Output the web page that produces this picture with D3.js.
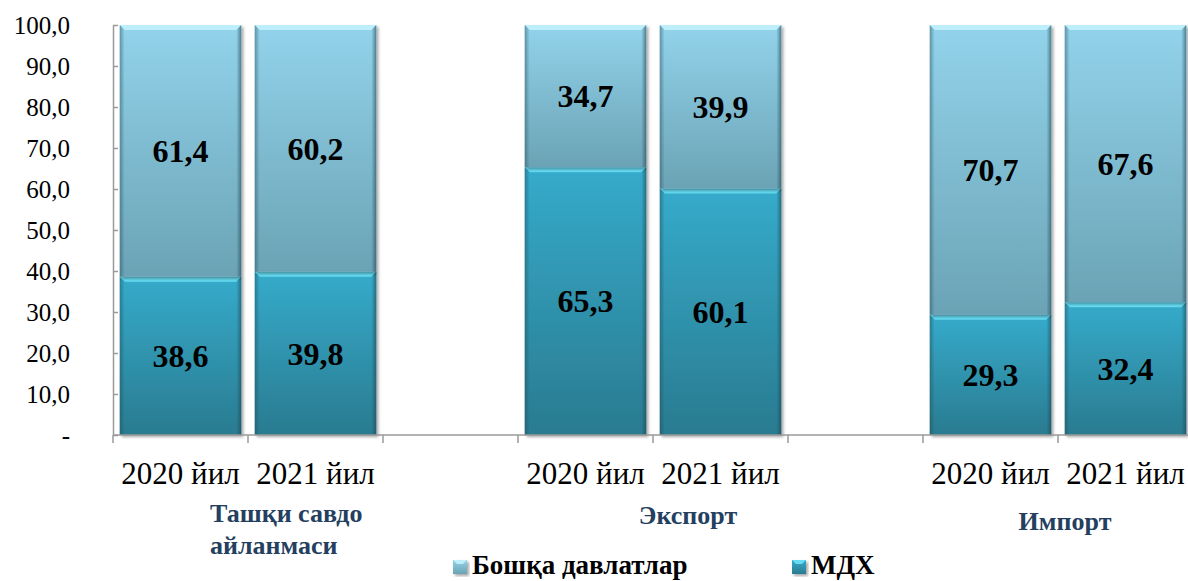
<!DOCTYPE html>
<html>
<head>
<meta charset="utf-8">
<script src="https://cdn.jsdelivr.net/npm/d3@7"></script>
<style>
  body { margin: 0; background: #fff; }
  svg { display: block; }
  svg text { font-family: "Liberation Serif", "Times New Roman", serif; }
</style>
</head>
<body>
<div id="chart"></div>
<script>
var W = 1188, H = 581
var margin = { top: 25, right: 0, bottom: 146, left: 113 }
var h = H - margin.top - margin.bottom
var w = 1080

// data
var groups = ['Ташқи савдо айланмаси', 'Экспорт', 'Импорт']
var years = ['2020 йил', '2021 йил']
var mdh = [38.6, 39.8, 65.3, 60.1, 29.3, 32.4]
var others = [61.4, 60.2, 34.7, 39.9, 70.7, 67.6]
var seriesNames = ['Бошқа давлатлар', 'МДХ']
var yTicks = [0, 10, 20, 30, 40, 50, 60, 70, 80, 90, 100]

// each group takes 3 slots: 2 years + an empty gap slot
var slots = d3.range(groups.length * 3 - 1)
var bars = []
groups.forEach(function (g, gi) {
  years.forEach(function (yr, yi) {
    var i = gi * 2 + yi
    bars.push({ slot: gi * 3 + yi, group: g, year: yr, mdh: mdh[i], other: others[i] })
  })
})

var x = d3.scaleBand().domain(slots).range([0, w]).paddingInner(0.1).paddingOuter(0.05)
var y = d3.scaleLinear().domain([0, 100]).range([h, 0])
var step = x.step()

var svg = d3.select('#chart').append('svg')
  .attr('width', W).attr('height', H)
var defs = svg.append('defs')

function grad(id, c1, c2) {
  var g = defs.append('linearGradient').attr('id', id)
    .attr('x1', 0).attr('y1', 0).attr('x2', 0).attr('y2', 1)
  g.append('stop').attr('offset', '0%').attr('stop-color', c1)
  g.append('stop').attr('offset', '100%').attr('stop-color', c2)
}
grad('gOther', '#92d3eb', '#6ba3b5')
grad('gMdh', '#35abcb', '#2a7b90')
var side = defs.append('linearGradient').attr('id', 'gSide')
side.append('stop').attr('offset', '0%').attr('stop-color', '#1d4652').attr('stop-opacity', 0.45)
side.append('stop').attr('offset', '4%').attr('stop-color', '#1d4652').attr('stop-opacity', 0)
side.append('stop').attr('offset', '96%').attr('stop-color', '#1d4652').attr('stop-opacity', 0)
side.append('stop').attr('offset', '100%').attr('stop-color', '#1d4652').attr('stop-opacity', 0.6)

defs.append('filter').attr('id', 'shadow')
  .attr('x', '-10%').attr('y', '-10%').attr('width', '130%').attr('height', '130%')
  .append('feDropShadow').attr('dx', 2).attr('dy', 2).attr('stdDeviation', 1.5)
  .attr('flood-color', '#000').attr('flood-opacity', 0.35)

var g = svg.append('g').attr('transform', 'translate(' + margin.left + ',' + margin.top + ')')

// stacked segments
var segs = []
bars.forEach(function (b) {
  segs.push({ b: b, y0: 0, y1: b.mdh, fill: 'url(#gMdh)', hi: '#66dcf2', v: b.mdh })
  segs.push({ b: b, y0: b.mdh, y1: b.mdh + b.other, fill: 'url(#gOther)', hi: '#bdeefa', v: b.other })
})

var seg = g.selectAll('.seg').data(segs).enter().append('g').attr('class', 'seg')
  .attr('filter', 'url(#shadow)')
seg.append('rect')
  .attr('x', function (d) { return x(d.b.slot) })
  .attr('y', function (d) { return y(d.y1) })
  .attr('width', x.bandwidth())
  .attr('height', function (d) { return y(d.y0) - y(d.y1) })
  .attr('fill', function (d) { return d.fill })
seg.append('rect')
  .attr('x', function (d) { return x(d.b.slot) })
  .attr('y', function (d) { return y(d.y1) })
  .attr('width', x.bandwidth())
  .attr('height', function (d) { return y(d.y0) - y(d.y1) })
  .attr('fill', 'url(#gSide)')
// bevel highlight on top edge
seg.append('path')
  .attr('fill', function (d) { return d.hi })
  .attr('d', function (d) {
    var x0 = x(d.b.slot), x1 = x0 + x.bandwidth(), t = y(d.y1), k = 5
    return 'M' + x0 + ',' + t + 'L' + x1 + ',' + t + 'L' + (x1 - k) + ',' + (t + k) +
      'L' + (x0 + k) + ',' + (t + k) + 'Z'
  })

// value labels
g.selectAll('.val').data(segs).enter().append('text')
  .attr('class', 'val')
  .attr('x', function (d) { return x(d.b.slot) + x.bandwidth() / 2 })
  .attr('y', function (d) { return (y(d.y0) + y(d.y1)) / 2 })
  .attr('dy', '0.35em')
  .attr('text-anchor', 'middle')
  .style('font-weight', 'bold')
  .style('font-size', '32px')
  .text(function (d) { return d.v.toFixed(1).replace('.', ',') })

// y axis
var yAxis = d3.axisLeft(y).tickValues(yTicks).tickSizeInner(-5).tickSizeOuter(0).tickPadding(43)
  .tickFormat(function (d) { return d === 0 ? '-' : d.toFixed(1).replace('.', ',') })
var ya = g.append('g').call(yAxis).attr('font-family', null)
ya.select('.domain').attr('stroke', '#9a9a9a').attr('stroke-width', 1.5)
ya.selectAll('.tick line').attr('stroke', '#9a9a9a').attr('stroke-width', 1.5)
ya.selectAll('.tick text')
  .style('font-size', '25px').attr('fill', '#000')

// x axis: line with ticks at slot boundaries
var xa = g.append('g').attr('transform', 'translate(0,' + h + ')')
xa.append('line').attr('x1', 0).attr('x2', w).attr('stroke', '#9a9a9a').attr('stroke-width', 1.5)
xa.selectAll('.xt').data(d3.range(slots.length + 1)).enter().append('line')
  .attr('x1', function (d) { return d * step }).attr('x2', function (d) { return d * step })
  .attr('y1', 0).attr('y2', 8)
  .attr('stroke', '#9a9a9a').attr('stroke-width', 1.5)

xa.selectAll('.yr').data(bars).enter().append('text')
  .attr('x', function (d) { return x(d.slot) + x.bandwidth() / 2 })
  .attr('y', 49)
  .attr('text-anchor', 'middle')
  .style('font-size', '31px')
  .text(function (d) { return d.year })

// group titles
var gt = [
  { lines: ['Ташқи савдо', 'айланмаси'], x: 97, y: 87, anchor: 'start' },
  { lines: ['Экспорт'], x: 575, y: 89, anchor: 'middle' },
  { lines: ['Импорт'], x: 952, y: 95, anchor: 'middle' }
]
gt.forEach(function (t, i) {
  var tx = xa.append('text')
    .attr('text-anchor', t.anchor)
    .attr('fill', '#243f60')
    .style('font-weight', 'bold')
    .style('font-size', '26px')
  t.lines.forEach(function (l, j) {
    tx.append('tspan').attr('x', t.x).attr('y', t.y + j * 32).text(l)
  })
})

// legend
var leg = svg.append('g').attr('transform', 'translate(0,574)')
var legItems = [
  { name: seriesNames[0], fill: 'url(#gOther)', hi: '#bdeefa', x: 453 },
  { name: seriesNames[1], fill: 'url(#gMdh)', hi: '#66dcf2', x: 792 }
]
var li = leg.selectAll('.li').data(legItems).enter().append('g')
  .attr('transform', function (d) { return 'translate(' + d.x + ',0)' })
li.append('rect').attr('x', 0).attr('y', -14).attr('width', 14).attr('height', 14)
  .attr('fill', function (d) { return d.fill }).attr('filter', 'url(#shadow)')
li.append('path').attr('d', 'M0,-14L14,-14L10,-10L4,-10Z')
  .attr('fill', function (d) { return d.hi })
li.append('text').attr('x', 19).attr('y', 0)
  .style('font-weight', 'bold')
  .style('font-size', '27px')
  .text(function (d) { return d.name })
</script>
</body>
</html>
